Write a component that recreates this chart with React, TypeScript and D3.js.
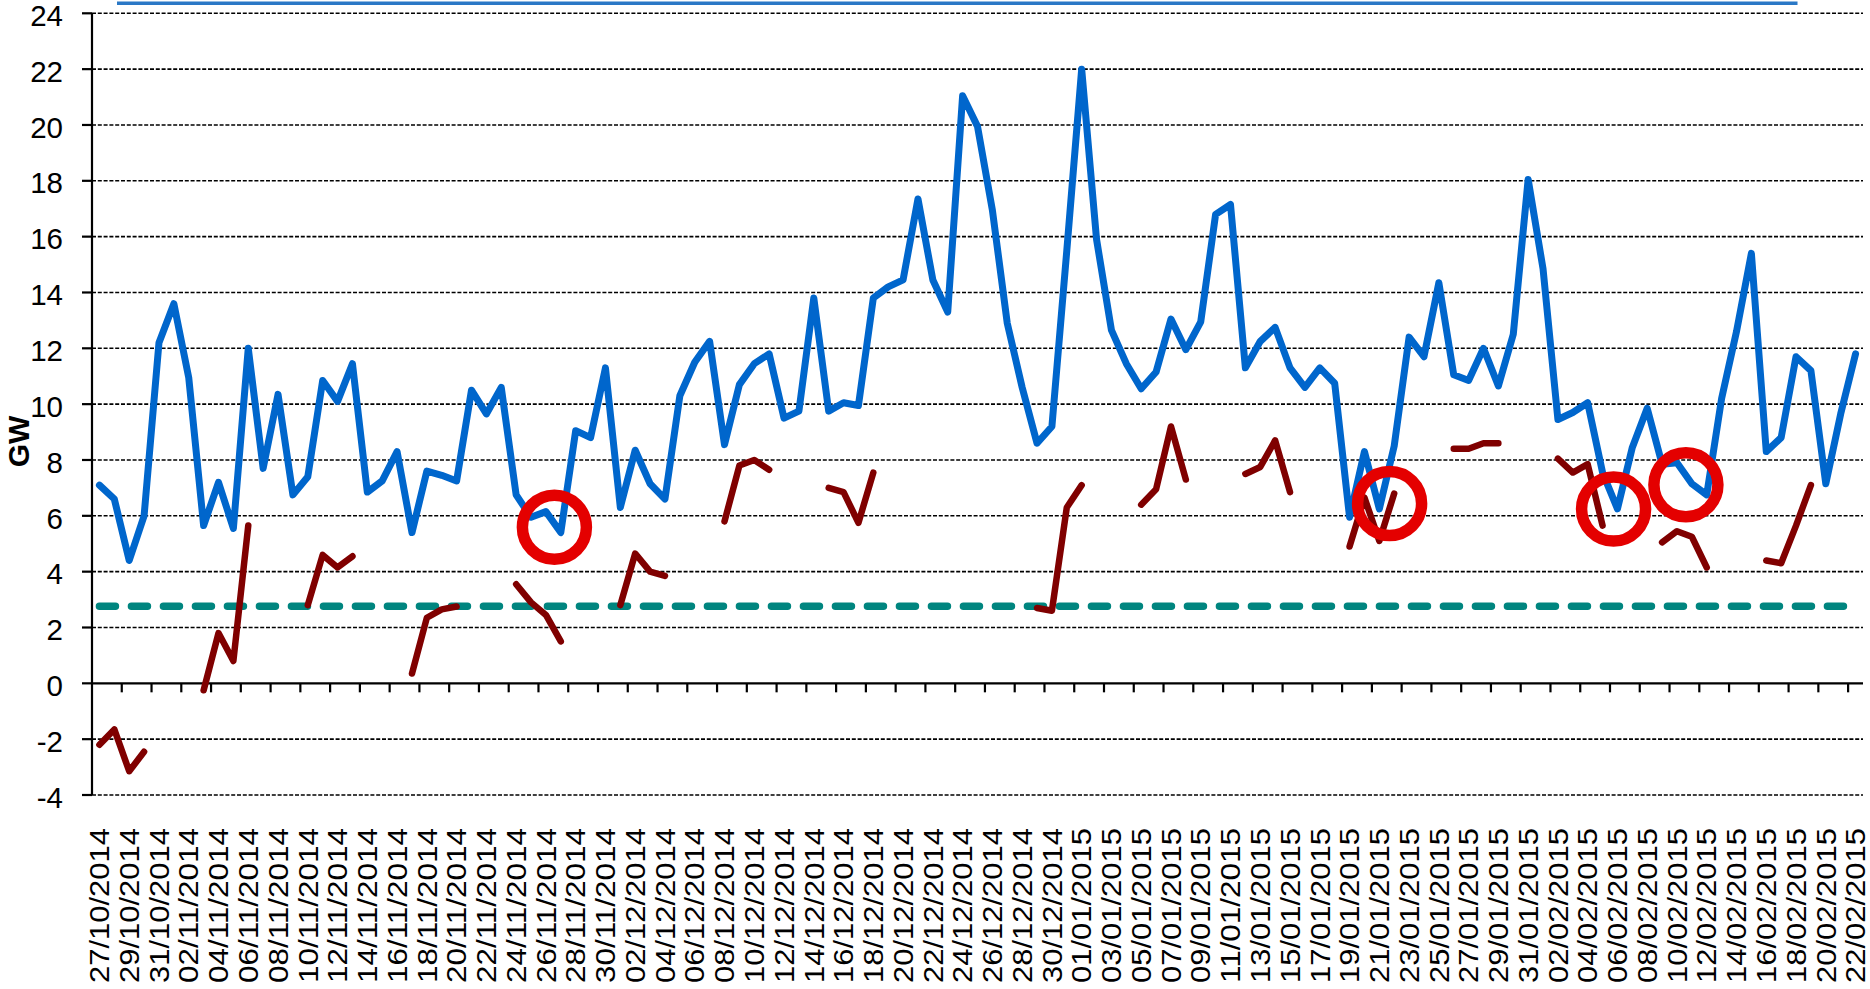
import React from "react";
import * as d3 from "d3";

// ---- data ----
const startDate = new Date(2014, 9, 27);
const endDateExclusive = new Date(2015, 1, 23);
const categories: string[] = d3.timeDay
  .range(startDate, endDateExclusive)
  .map((d) => d3.timeFormat("%d/%m/%Y")(d));

const blueSeries: number[] = [
  7.1, 6.6, 4.4, 6.0, 12.2, 13.6, 10.95, 5.65, 7.2, 5.55,
  12.0, 7.7, 10.35, 6.75, 7.4, 10.85, 10.1, 11.45, 6.85, 7.25,
  8.3, 5.4, 7.6, 7.45, 7.25, 10.5, 9.65, 10.6, 6.75, 5.95,
  6.15, 5.4, 9.05, 8.8, 11.3, 6.3, 8.35, 7.15, 6.6, 10.3,
  11.5, 12.25, 8.55, 10.7, 11.45, 11.8, 9.5, 9.75, 13.8, 9.75,
  10.05, 9.95, 13.8, 14.2, 14.45, 17.35, 14.45, 13.3, 21.05, 19.95,
  16.95, 12.9, 10.6, 8.6, 9.2, 15.5, 22.0, 15.9, 12.65, 11.45,
  10.55, 11.15, 13.05, 11.95, 12.95, 16.8, 17.15, 11.3, 12.25, 12.75,
  11.3, 10.6, 11.3, 10.75, 5.95, 8.3, 6.25, 8.5, 12.4, 11.7,
  14.35, 11.05, 10.85, 12.0, 10.65, 12.5, 18.05, 14.85, 9.45, 9.7,
  10.05, 7.55, 6.25, 8.45, 9.85, 7.85, 7.9, 7.15, 6.75, 10.2,
  12.6, 15.4, 8.3, 8.8, 11.7, 11.2, 7.15, 9.65, 11.8,
];

const N = null;
const redSeries: (number | null)[] = [
  -2.2, -1.65, -3.15, -2.45, N, N, N,
  -0.25, 1.8, 0.8, 5.65, N, N, N,
  2.8, 4.6, 4.15, 4.55, N, N, N,
  0.35, 2.35, 2.65, 2.75, N, N, N,
  3.55, 2.9, 2.45, 1.5, N, N, N,
  2.8, 4.65, 4.0, 3.85, N, N, N,
  5.8, 7.8, 8.0, 7.65, N, N, N,
  7.0, 6.85, 5.75, 7.55, N, N, N,
  N, N, N, N, N, N, N,
  2.7, 2.6, 6.3, 7.1, N, N, N,
  6.4, 6.95, 9.2, 7.3, N, N, N,
  7.5, 7.75, 8.7, 6.85, N, N, N,
  4.9, 6.65, 5.1, 6.8, N, N, N,
  8.4, 8.4, 8.6, 8.6, N, N, N,
  8.05, 7.55, 7.85, 5.65, N, N, N,
  5.05, 5.45, 5.25, 4.15, N, N, N,
  4.4, 4.3, 5.65, 7.1, N, N, N,
];

const tealLevel = 2.76;
const topLine = { startDay: 1.18, endDay: 114.1, value: 24.36 };

const highlightDays: number[] = [30.57, 86.69, 101.74, 106.6];
const highlightValues: number[] = [5.59, 6.44, 6.24, 7.11];

const yTicks: number[] = [-4, -2, 0, 2, 4, 6, 8, 10, 12, 14, 16, 18, 20, 22, 24];
const yLabel = "GW";

// ---- layout ----
const W = 1870;
const H = 989;
const left = 92;
const right = 1863;
const top = 13.3;
const bottom = 795;
const FONT = "'Liberation Sans', Arial, Helvetica, sans-serif";

export default function App() {
  const n = categories.length;
  const x = d3.scaleLinear().domain([-0.5, n - 0.5]).range([left, right]);
  const y = d3.scaleLinear().domain([-4, 24]).range([bottom, top]);

  const line = d3
    .line<number | null>()
    .defined((d) => d !== null)
    .x((_, i) => x(i))
    .y((d) => y(d as number));

  const tealPath = d3
    .line<number>()
    .x((d) => x(d))
    .y(() => y(tealLevel))([0, n - 1]);

  const topPath = d3
    .line<number>()
    .x((d) => x(d))
    .y(() => y(topLine.value))([topLine.startDay, topLine.endDay]);

  const tickBoundaries = d3.range(2, n, 2).map((k) => k - 0.5);

  return (
    <svg
      width={W}
      height={H}
      style={{ position: "absolute", left: 0, top: 0, display: "block", background: "#fff" }}
      fontFamily={FONT}
    >
      {/* gridlines */}
      {yTicks
        .filter((t) => t !== 0)
        .map((t) => (
          <line
            key={"g" + t}
            x1={left}
            x2={right}
            y1={y(t)}
            y2={y(t)}
            stroke="#000"
            strokeWidth={1.6}
            strokeDasharray="4 1.8"
          />
        ))}

      {/* y axis */}
      <line x1={left} x2={left} y1={top} y2={bottom} stroke="#000" strokeWidth={2.2} />
      {yTicks.map((t) => (
        <g key={"yt" + t}>
          <line x1={left - 10} x2={left} y1={y(t)} y2={y(t)} stroke="#000" strokeWidth={2.2} />
          <text
            x={63}
            y={y(t)}
            dy="0.43em"
            textAnchor="end"
            fontSize={29.5}
            fill="#000"
          >
            {t}
          </text>
        </g>
      ))}

      {/* x axis at zero */}
      <line x1={left} x2={right} y1={y(0)} y2={y(0)} stroke="#000" strokeWidth={2.4} />
      {tickBoundaries.map((b) => (
        <line
          key={"xt" + b}
          x1={x(b)}
          x2={x(b)}
          y1={y(0)}
          y2={y(0) + 9}
          stroke="#000"
          strokeWidth={2.2}
        />
      ))}

      {/* x labels */}
      {categories.map((c, i) =>
        i % 2 === 0 ? (
          <text
            key={"xl" + i}
            transform={`translate(${x(i)},828) rotate(-90)`}
            dy="0.36em"
            textAnchor="end"
            fontSize={27}
            textLength={155}
            lengthAdjust="spacingAndGlyphs"
            fill="#000"
          >
            {c}
          </text>
        ) : null
      )}

      {/* y label */}
      <text
        transform="translate(18,441.5) rotate(-90)"
        dy="0.35em"
        textAnchor="middle"
        fontSize={30}
        fontWeight="bold"
        fill="#000"
      >
        {yLabel}
      </text>

      {/* teal dashed level */}
      <path
        d={tealPath || ""}
        fill="none"
        stroke="#00857F"
        strokeWidth={7.5}
        strokeDasharray="16 16"
        strokeLinecap="round"
      />

      {/* blue series */}
      <path
        d={line(blueSeries) || ""}
        fill="none"
        stroke="#0066CC"
        strokeWidth={7}
        strokeLinejoin="round"
        strokeLinecap="round"
      />

      {/* red series */}
      <path
        d={line(redSeries) || ""}
        fill="none"
        stroke="#800000"
        strokeWidth={6.5}
        strokeLinejoin="round"
        strokeLinecap="round"
      />

      {/* highlight circles */}
      {highlightDays.map((d, i) => (
        <circle
          key={"c" + i}
          cx={x(d)}
          cy={y(highlightValues[i])}
          r={32}
          fill="none"
          stroke="#E40000"
          strokeWidth={11.5}
        />
      ))}

      {/* top line */}
      <path d={topPath || ""} fill="none" stroke="#2A78C6" strokeWidth={3.6} />
    </svg>
  );
}
